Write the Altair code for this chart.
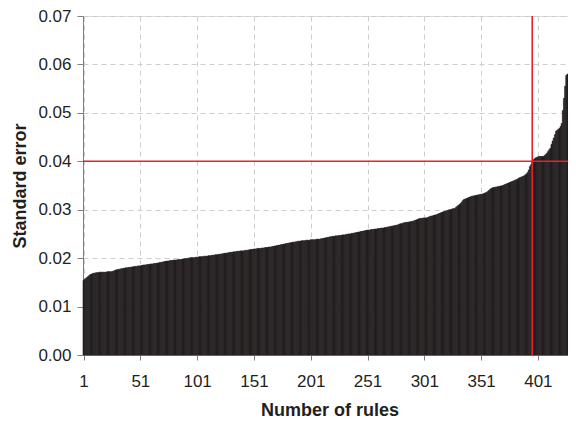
import altair as alt
import pandas as pd

# Standard error of each rule, sorted ascending
se_values = [
    0.0154, 0.0156, 0.0158, 0.0160, 0.0162, 0.0164, 0.0166, 0.0167, 0.0168, 0.0169,
    0.0169, 0.0170, 0.0170, 0.0170, 0.0171, 0.0171, 0.0171, 0.0171, 0.0171, 0.0171,
    0.0171, 0.0172, 0.0172, 0.0172, 0.0172, 0.0172, 0.0173, 0.0174, 0.0175, 0.0176,
    0.0176, 0.0177, 0.0177, 0.0178, 0.0178, 0.0179, 0.0179, 0.0180, 0.0180, 0.0180,
    0.0181, 0.0181, 0.0181, 0.0182, 0.0182, 0.0183, 0.0183, 0.0183, 0.0184, 0.0184,
    0.0184, 0.0185, 0.0185, 0.0186, 0.0186, 0.0186, 0.0187, 0.0187, 0.0187, 0.0188,
    0.0188, 0.0188, 0.0189, 0.0189, 0.0189, 0.0190, 0.0190, 0.0191, 0.0191, 0.0192,
    0.0192, 0.0193, 0.0193, 0.0194, 0.0194, 0.0194, 0.0195, 0.0195, 0.0195, 0.0196,
    0.0196, 0.0196, 0.0196, 0.0197, 0.0197, 0.0197, 0.0197, 0.0198, 0.0198, 0.0199,
    0.0199, 0.0199, 0.0200, 0.0200, 0.0201, 0.0201, 0.0201, 0.0201, 0.0201, 0.0202,
    0.0202, 0.0202, 0.0203, 0.0203, 0.0203, 0.0203, 0.0204, 0.0204, 0.0204, 0.0204,
    0.0205, 0.0205, 0.0205, 0.0206, 0.0206, 0.0206, 0.0207, 0.0207, 0.0207, 0.0208,
    0.0208, 0.0208, 0.0209, 0.0209, 0.0210, 0.0210, 0.0210, 0.0211, 0.0211, 0.0212,
    0.0212, 0.0212, 0.0213, 0.0213, 0.0213, 0.0214, 0.0214, 0.0214, 0.0215, 0.0215,
    0.0215, 0.0215, 0.0216, 0.0216, 0.0216, 0.0217, 0.0217, 0.0218, 0.0218, 0.0218,
    0.0219, 0.0219, 0.0219, 0.0220, 0.0220, 0.0220, 0.0220, 0.0221, 0.0221, 0.0221,
    0.0222, 0.0222, 0.0222, 0.0223, 0.0223, 0.0223, 0.0224, 0.0224, 0.0225, 0.0225,
    0.0226, 0.0226, 0.0227, 0.0227, 0.0228, 0.0228, 0.0229, 0.0229, 0.0230, 0.0230,
    0.0231, 0.0231, 0.0232, 0.0232, 0.0233, 0.0233, 0.0233, 0.0234, 0.0234, 0.0235,
    0.0235, 0.0235, 0.0236, 0.0236, 0.0236, 0.0236, 0.0237, 0.0237, 0.0237, 0.0237,
    0.0238, 0.0238, 0.0238, 0.0238, 0.0238, 0.0239, 0.0239, 0.0239, 0.0239, 0.0240,
    0.0240, 0.0241, 0.0241, 0.0242, 0.0242, 0.0243, 0.0243, 0.0244, 0.0244, 0.0245,
    0.0245, 0.0245, 0.0246, 0.0246, 0.0246, 0.0247, 0.0247, 0.0247, 0.0248, 0.0248,
    0.0248, 0.0249, 0.0249, 0.0250, 0.0250, 0.0250, 0.0251, 0.0251, 0.0252, 0.0252,
    0.0253, 0.0253, 0.0254, 0.0254, 0.0255, 0.0255, 0.0256, 0.0256, 0.0257, 0.0257,
    0.0258, 0.0258, 0.0258, 0.0259, 0.0259, 0.0259, 0.0260, 0.0260, 0.0260, 0.0261,
    0.0261, 0.0261, 0.0262, 0.0262, 0.0262, 0.0263, 0.0263, 0.0264, 0.0264, 0.0265,
    0.0265, 0.0266, 0.0266, 0.0267, 0.0267, 0.0268, 0.0268, 0.0269, 0.0270, 0.0271,
    0.0271, 0.0272, 0.0273, 0.0273, 0.0274, 0.0274, 0.0274, 0.0275, 0.0275, 0.0276,
    0.0276, 0.0277, 0.0278, 0.0279, 0.0280, 0.0281, 0.0282, 0.0282, 0.0282, 0.0283,
    0.0283, 0.0283, 0.0283, 0.0284, 0.0285, 0.0286, 0.0287, 0.0287, 0.0288, 0.0289,
    0.0289, 0.0290, 0.0291, 0.0292, 0.0293, 0.0294, 0.0295, 0.0296, 0.0297, 0.0297,
    0.0298, 0.0299, 0.0300, 0.0300, 0.0301, 0.0302, 0.0302, 0.0303, 0.0305, 0.0307,
    0.0309, 0.0311, 0.0313, 0.0316, 0.0319, 0.0321, 0.0322, 0.0323, 0.0324, 0.0325,
    0.0326, 0.0327, 0.0328, 0.0328, 0.0329, 0.0329, 0.0330, 0.0330, 0.0331, 0.0331,
    0.0332, 0.0332, 0.0333, 0.0334, 0.0335, 0.0336, 0.0338, 0.0340, 0.0342, 0.0344,
    0.0345, 0.0346, 0.0346, 0.0347, 0.0347, 0.0348, 0.0348, 0.0349, 0.0349, 0.0350,
    0.0351, 0.0352, 0.0353, 0.0354, 0.0355, 0.0356, 0.0357, 0.0358, 0.0359, 0.0360,
    0.0361, 0.0362, 0.0363, 0.0365, 0.0366, 0.0367, 0.0368, 0.0369, 0.0370, 0.0372,
    0.0374, 0.0377, 0.0382, 0.0389, 0.0393, 0.0398, 0.0403, 0.0405, 0.0407, 0.0408,
    0.0409, 0.0410, 0.0410, 0.0410, 0.0410, 0.0410, 0.0412, 0.0414, 0.0417, 0.0420,
    0.0424, 0.0427, 0.0435, 0.0442, 0.0448, 0.0455, 0.0462, 0.0464, 0.0466, 0.0468,
    0.0472, 0.0478, 0.0505, 0.0530, 0.0555, 0.0577, 0.0580,
]

x_tick_values = [1, 51, 101, 151, 201, 251, 301, 351, 401]
y_tick_values = [0.0, 0.01, 0.02, 0.03, 0.04, 0.05, 0.06, 0.07]
threshold_se = [0.04]
threshold_rule = [396]

n = len(se_values)
rules = list(range(1, n + 1))
df = pd.DataFrame({
    "rule": rules,
    "x0": [r - 0.5 for r in rules],
    "x1": [r + 0.5 for r in rules],
    "se": se_values,
})

FONT = "Liberation Sans"
TEXT = "#231f20"
AXIS = "#7f7f7f"
GRID = "#cdcdcd"
RED = "#e8202a"
BAR = "#231f20"

W, H = 485, 339

x_scale = alt.Scale(domain=[0.5, n + 0.5], nice=False, zero=False)
y_scale = alt.Scale(domain=[0, 0.07], nice=False, zero=True)

x_axis = alt.Axis(
    title="Number of rules", values=x_tick_values, format="d",
    grid=True, gridDash=[5, 4], gridColor=GRID, gridWidth=1,
    domainColor=AXIS, tickColor=AXIS, tickSize=5,
    labelFont=FONT, labelFontSize=17, labelColor=TEXT,
    labelBaseline="alphabetic", labelPadding=26,
    labelFlush=False, labelOverlap=False,
    titleFont=FONT, titleFontSize=18, titleFontWeight="bold", titleColor=TEXT,
    titleBaseline="alphabetic", titleAlign="center", titleX=W / 2 + 4, titleY=60,
)
y_axis = alt.Axis(
    title="Standard error", values=y_tick_values, format=".2f",
    grid=True, gridDash=[5, 4], gridColor=GRID, gridWidth=1,
    domainColor=AXIS, tickColor=AXIS, tickSize=6,
    labelFont=FONT, labelFontSize=17, labelColor=TEXT, labelPadding=6,
    labelFlush=False, labelOverlap=False,
    titleFont=FONT, titleFontSize=18, titleFontWeight="bold", titleColor=TEXT,
    titleAngle=270, titleBaseline="alphabetic", titleAlign="center",
    titleX=-58, titleY=H / 2,
)

bars = alt.Chart(df).mark_rect(
    color=BAR, stroke=BAR, strokeWidth=0.6
).encode(
    x=alt.X("x0:Q", scale=x_scale, axis=x_axis),
    x2="x1:Q",
    y=alt.Y("se:Q", scale=y_scale, axis=y_axis),
    y2=alt.datum(0),
)

hline = alt.Chart(pd.DataFrame({"se": threshold_se})).mark_rule(
    color=RED, strokeWidth=1.6
).encode(y=alt.Y("se:Q", scale=y_scale))

vline = alt.Chart(pd.DataFrame({"x0": threshold_rule})).mark_rule(
    color=RED, strokeWidth=1.6
).encode(x=alt.X("x0:Q", scale=x_scale))

chart = alt.layer(bars, hline, vline).properties(
    width=W, height=H,
    padding={"left": 75, "top": 8, "right": 0, "bottom": 65},
    autosize=alt.AutoSizeParams(type="none"),
).configure_view(stroke=None).configure(background="white")

chart.save("out.html", embed_options={"renderer": "svg", "actions": False})
